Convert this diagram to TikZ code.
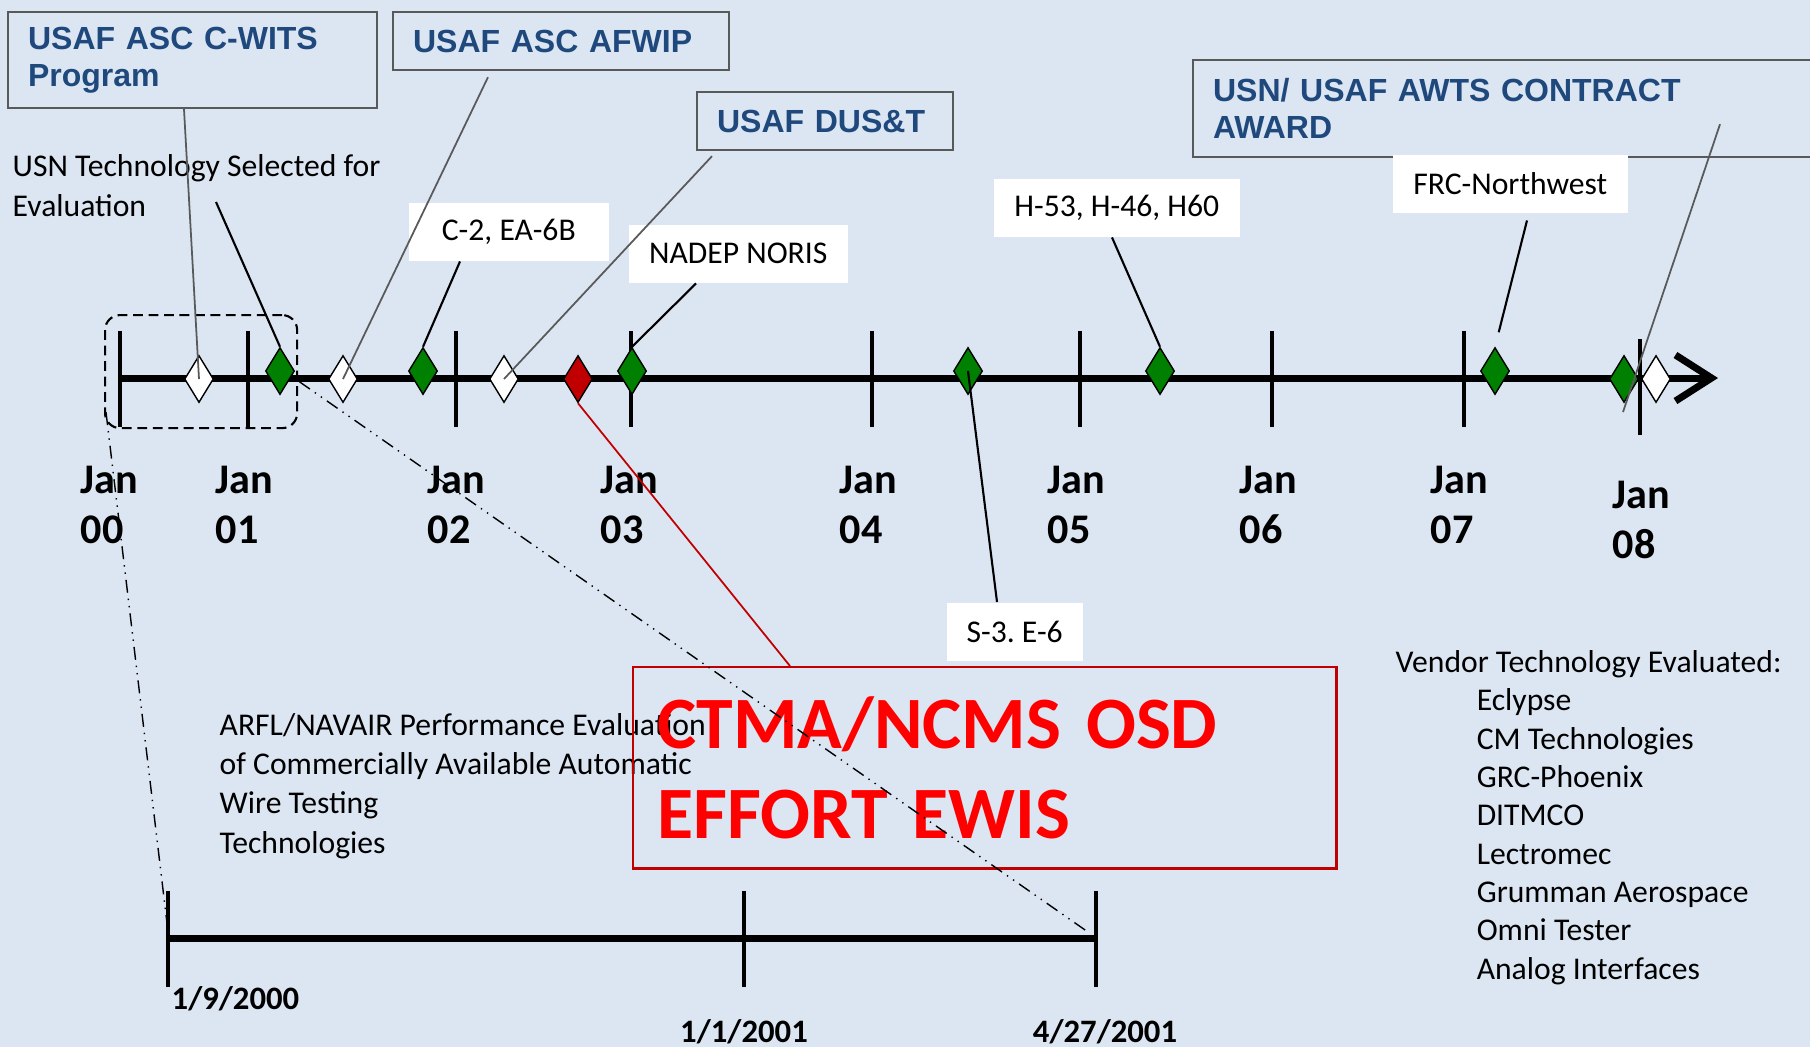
\documentclass[tikz,border=0pt]{standalone}
\usepackage{fontspec}
\setmainfont{Carlito}
\newfontfamily\arialfont{Liberation Sans}
\usetikzlibrary{shapes.geometric,arrows.meta,positioning,calc}

\definecolor{bgblue}{HTML}{DCE6F2}
\definecolor{titleblue}{HTML}{1F497D}
\definecolor{boxgray}{HTML}{595959}
\definecolor{msgreen}{HTML}{008000}
\definecolor{msred}{HTML}{C00000}
\definecolor{brightred}{HTML}{FF0000}

\frenchspacing

\begin{document}
\begin{tikzpicture}[
        x=0.01cm, y=-0.01cm,
        txt/.style={font=\fontsize{9}{11.1}\selectfont, inner sep=0pt, align=left, anchor=base west},
        whitebox/.style={fill=white, inner sep=0pt, minimum height=0.58cm, minimum width=#1, anchor=north west, font=\fontsize{9}{11.1}\selectfont},
        bluebox/.style={draw=boxgray, line width=0.6pt, inner xsep=0.2cm, inner ysep=0pt, text width=#1, align=left, anchor=north west, text=titleblue, font=\arialfont\bfseries\fontsize{9.1}{10.5}\selectfont},
        milestone/.style={diamond, draw=black, line width=0.4pt, inner sep=0pt, minimum width=0.29cm, minimum height=0.47cm},
        tickline/.style={line width=1.3pt},
        axisline/.style={line width=2pt},
        janlbl/.style={font=\fontsize{12}{14.2}\selectfont\bfseries, inner sep=0pt, align=left, anchor=base west},
        datelbl/.style={font=\fontsize{9.3}{11}\selectfont\bfseries, inner sep=0pt},
        callout/.style={line width=0.6pt},
        grayline/.style={draw=boxgray, line width=0.5pt},
        zoomline/.style={line width=0.4pt, dash pattern=on 3.7pt off 1.7pt on 0.4pt off 1.7pt on 0.4pt off 1.7pt}
    ]

    % background
    \fill[bgblue] (0,0) rectangle (1810,1047);
    \useasboundingbox (0,0) rectangle (1810,1047);

    % Callout boxes (blue titles)
    \node[bluebox=3.29cm, minimum height=0.96cm] (cwits) at (7,11) {USAF ASC C-WITS\\Program};
    \node[bluebox=2.96cm, minimum height=0.58cm] (afwip) at (392,11) {USAF ASC AFWIP};
    \node[bluebox=2.16cm, minimum height=0.58cm] (dust) at (696,91) {USAF DUS\&T};
    \node[bluebox=5.98cm, minimum height=0.97cm] (awts) at (1192,59) {USN/ USAF AWTS CONTRACT\\AWARD};

    % Callout boxes (white)
    \node[whitebox=2cm] (c2) at (408,202) {C-2, EA-6B};
    \node[whitebox=2.19cm] (nadep) at (628,224) {NADEP NORIS};
    \node[whitebox=2.46cm] (helo) at (993,178) {H-53, H-46, H60};
    \node[whitebox=2.35cm] (frc) at (1392,154) {FRC-Northwest};
    \node[whitebox=1.36cm] (s3) at (946,602) {S-3. E-6};

    \node[txt] (usn) at (12,216) {USN Technology Selected for\\Evaluation};
    \coordinate (usnpt) at (216,202);

    % Main time line
    \coordinate (ax0) at (120,378);
    \coordinate (axend) at (1718,378);
    \draw[axisline, -{Straight Barb[length=0.36cm, width=0.46cm]}] (ax0) -- (axend);
    \foreach \x in {120,248,456,631,872,1080,1272,1464}
        \draw[tickline] (\x,331) -- (\x,427);
    \draw[tickline] (1640,339) -- (1640,435);

    \foreach \x/\yr in {80/00,215/01,427/02,600/03,839/04,1047/05,1239/06,1430/07}
        \node[janlbl] (jan\yr) at (\x,543) {Jan\\\yr};
    \node[janlbl] (jan08) at (1612,558) {Jan\\08};

    % Milestones
    \node[milestone, fill=white] (w1) at (199,379) {};
    \node[milestone, fill=msgreen] (g1) at (280,371) {};
    \node[milestone, fill=white] (w2) at (343,379) {};
    \node[milestone, fill=msgreen] (g2) at (423,371) {};
    \node[milestone, fill=white] (w3) at (504,379) {};
    \node[milestone, fill=msred] (r1) at (578,379) {};
    \node[milestone, fill=msgreen] (g3) at (632,371) {};
    \node[milestone, fill=msgreen] (g4) at (968,371) {};
    \node[milestone, fill=msgreen] (g5) at (1160,371) {};
    \node[milestone, fill=msgreen] (g6) at (1495,371) {};
    \node[milestone, fill=msgreen] (g7) at (1624,379) {};
    \node[milestone, fill=white] (w4) at (1656,379) {};

    % Zoom box
    \node[draw, line width=0.6pt, dash pattern=on 2.8pt off 1.6pt, rounded corners=0.15cm, minimum width=1.92cm, minimum height=1.13cm, anchor=north west] (zoombox) at (104,314) {};

    % Leader lines
    \draw[grayline] ($(cwits.south west)+(177,0)$) -- (w1.center);
    \draw[callout] (usnpt) -- (g1.north);
    \draw[grayline] ($(afwip.south west)+(96,6)$) -- (w2.center);
    \draw[callout] ($(c2.south west)+(52,0)$) -- (g2.north);
    \draw[grayline] ($(dust.south west)+(16,5)$) -- (w3.center);
    \draw[callout] ($(nadep.south west)+(68,0)$) -- (g3.north);
    \draw[callout] (g4.center) -- ($(s3.north west)+(51,0)$);
    \draw[callout] ($(helo.south west)+(119,0)$) -- (g5.north);
    \draw[callout, shorten >=0.15cm] ($(frc.south west)+(135,7)$) -- (g6.north);
    \coordinate (awtsend) at (1623,412);
    \draw[grayline] ($(awts.south west)+(528,-34)$) -- (awtsend);

    % Left text
    \node[txt] (arfl) at (219,853) {ARFL/NAVAIR Performance Evaluation\\of Commercially Available Automatic\\Wire Testing\\Technologies};

    % CTMA box
    \node[draw=msred, line width=0.7pt, minimum width=7.03cm, minimum height=2.01cm, text width=6.55cm, inner xsep=0.24cm, align=left, anchor=north west, text=brightred, font=\fontsize{21}{25.6}\selectfont\bfseries] (ctma) at (632,666) {CTMA/NCMS OSD\\EFFORT EWIS};
    \draw[msred, line width=0.5pt] (r1.south) -- ($(ctma.north west)+(158,0)$);

    % Zoomed time line
    \coordinate (z0) at (168,938);
    \coordinate (z1) at (744,938);
    \coordinate (z2) at (1096,938);
    \draw[axisline] (z0) -- (z2);
    \foreach \p in {z0,z1,z2}
        \draw[tickline] ($(\p)+(0,-47)$) -- ($(\p)+(0,49)$);
    \node[datelbl, anchor=base west] (d0) at (171,1009) {1/9/2000};
    \node[datelbl, anchor=base] (d1) at (744,1042) {1/1/2001};
    \node[datelbl, anchor=base] (d2) at (1105,1042) {4/27/2001};

    \draw[zoomline] ($(zoombox.south west)+(2,-17)$) -- ($(z0)+(-1,-15)$);
    \draw[zoomline] ($(zoombox.east)+(1,10)$) -- ($(z2)+(-8,-6)$);

    % Vendor list
    \node[txt, font=\fontsize{9}{10.9}\selectfont] (vendor) at (1395,979) {Vendor Technology Evaluated:\\
        \hspace*{0.81cm}Eclypse\\
        \hspace*{0.81cm}CM Technologies\\
        \hspace*{0.81cm}GRC-Phoenix\\
        \hspace*{0.81cm}DITMCO\\
        \hspace*{0.81cm}Lectromec\\
        \hspace*{0.81cm}Grumman Aerospace\\
        \hspace*{0.81cm}Omni Tester\\
        \hspace*{0.81cm}Analog Interfaces};

\end{tikzpicture}
\end{document}
